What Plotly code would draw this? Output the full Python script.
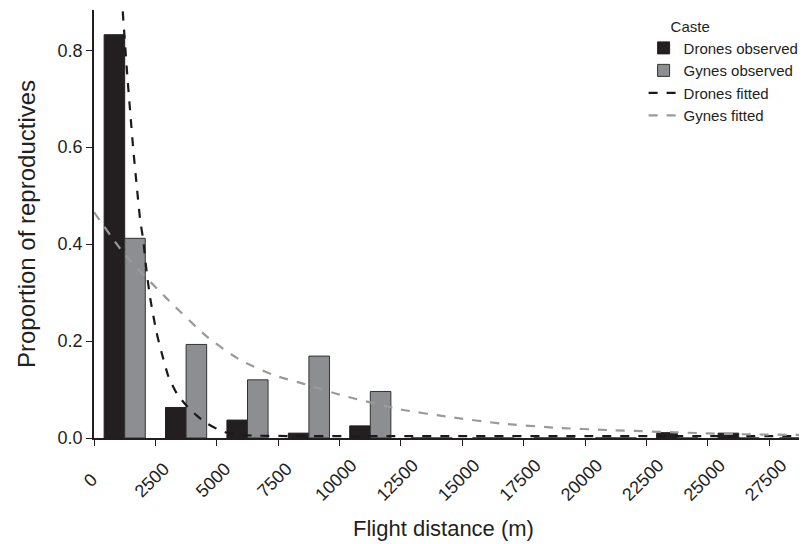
import plotly.graph_objects as go

# Bin centres (m) of the 2500 m distance classes
bin_centres = [1250, 3750, 6250, 8750, 11250, 13750, 16250, 18750, 21250, 23750, 26250, 28750]
drones_observed = [0.832, 0.063, 0.037, 0.010, 0.025, 0, 0, 0, 0, 0.011, 0.010, 0]
gynes_observed = [0.412, 0.193, 0.120, 0.169, 0.096, 0, 0, 0, 0, 0, 0, 0]

# Fitted curves, points
drones_fit_x = [1170, 1360, 1470, 1600, 1740, 1880, 2000, 2150, 2300, 2550, 2760, 3030, 3370,
                3780, 4190, 4600, 5000, 5410, 5820, 6500, 8000, 12000, 20000, 29000]
drones_fit_y = [0.88, 0.745, 0.675, 0.595, 0.52, 0.45, 0.41, 0.34, 0.285, 0.217, 0.175, 0.127, 0.092,
                0.066, 0.046, 0.030, 0.019, 0.011, 0.007, 0.005, 0.004, 0.004, 0.004, 0.004]
gynes_fit_x = [0, 1260, 2960, 4600, 5950, 7310, 8600, 10170, 12480, 14520, 16560, 18870,
               20910, 23630, 26350, 28930]
gynes_fit_y = [0.466, 0.378, 0.288, 0.209, 0.161, 0.130, 0.111, 0.087, 0.059, 0.043, 0.030, 0.021,
               0.0165, 0.0117, 0.0078, 0.0062]

x_ticks = [0, 2500, 5000, 7500, 10000, 12500, 15000, 17500, 20000, 22500, 25000, 27500]
y_ticks = [0.0, 0.2, 0.4, 0.6, 0.8]

x_title = "Flight distance (m)"
y_title = "Proportion of reproductives"

# pad shorter labels on both sides with no-break spaces so rotated labels sit centred under ticks
def _pad(v):
    s = str(v)
    m = 5 - len(s)
    return "\u00a0" * m + s + "\u00a0" * m

x_ticktext = [_pad(v) for v in x_ticks]

FONT = "Liberation Sans, Arial, sans-serif"

fig = go.Figure()
fig.add_trace(go.Bar(x=bin_centres, y=drones_observed, name="Drones observed",
                     marker=dict(color="#231f20", line=dict(color="#231f20", width=1))))
fig.add_trace(go.Bar(x=bin_centres, y=gynes_observed, name="Gynes observed",
                     marker=dict(color="#8d8e91", line=dict(color="#333333", width=1))))
fig.add_trace(go.Scatter(x=drones_fit_x, y=drones_fit_y, name="Drones fitted", mode="lines",
                         line=dict(color="#1a1a1a", width=2.2, dash="dash", shape="spline", smoothing=0.6)))
fig.add_trace(go.Scatter(x=gynes_fit_x, y=gynes_fit_y, name="Gynes fitted", mode="lines",
                         line=dict(color="#9a9a9a", width=2.2, dash="dash", shape="spline", smoothing=0.6)))

# x-axis title as a paper annotation so it sits exactly where the reference has it
fig.add_annotation(text=x_title, xref="paper", yref="paper", x=0.4916, y=-0.2126,
                   xanchor="center", yanchor="middle", showarrow=False,
                   font=dict(size=22, family=FONT, color="#231f20"))

# page body has an 8 px margin, so the figure is 8 px smaller and offset
fig.update_layout(
    width=799, height=536,
    margin=dict(l=86, r=2, t=2, b=106, autoexpand=False),
    paper_bgcolor="white", plot_bgcolor="white",
    barmode="group", bargap=0.33, bargroupgap=0,
    font=dict(family=FONT, color="#231f20"),
    showlegend=True,
    legend=dict(title=dict(text="\u00a0\u00a0\u00a0\u00a0\u00a0\u00a0Caste", font=dict(size=15)),
                font=dict(size=15), x=0.773, y=0.995, xanchor="left", yanchor="top",
                bgcolor="rgba(0,0,0,0)", tracegroupgap=0, itemwidth=30),
    xaxis=dict(range=[0, 28950], tickvals=x_ticks, ticktext=x_ticktext,
               tickangle=-45, tickfont=dict(size=18), ticks="outside", ticklen=6,
               ticklabelshift=12, ticklabelstandoff=2,
               tickcolor="#231f20", showline=True, linecolor="#231f20", linewidth=1.5,
               showgrid=False, zeroline=False, automargin=False),
    yaxis=dict(range=[0, 0.883], tickvals=y_ticks, tickformat=".1f",
               tickfont=dict(size=18), ticks="outside", ticklen=6, tickcolor="#231f20",
               showline=True, linecolor="#231f20", linewidth=1.5, mirror=True,
               showgrid=False, zeroline=False, automargin=False,
               title=dict(text=y_title, font=dict(size=24), standoff=15)),
)

fig.write_html("out.html")
